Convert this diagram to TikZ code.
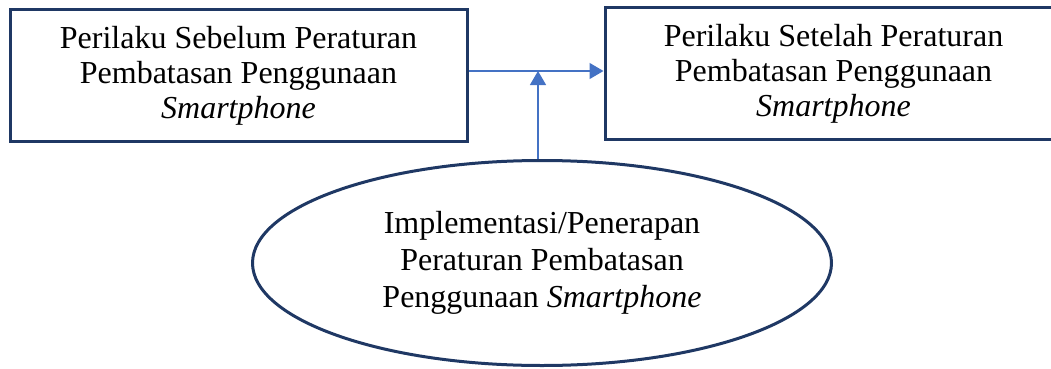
\documentclass[tikz,border=0pt]{standalone}
\usepackage{fontspec}
\setmainfont{Liberation Serif}
\usepackage{tikz}
\usetikzlibrary{arrows.meta, shapes.geometric, positioning}

\definecolor{boxline}{HTML}{1F3864}
\definecolor{arrowline}{HTML}{4472C4}

\begin{document}
\begin{tikzpicture}[
      x=1pt, y=-1pt,
      box/.style={draw=boxline, line width=3pt,
                  minimum width=457pt, minimum height=131pt,
                  align=center, font=\fontsize{32}{35}\selectfont},
      oval/.style={draw=boxline, ellipse, line width=3pt,
                   minimum width=579pt, minimum height=205pt,
                   align=center, font=\fontsize{32}{37}\selectfont},
      conn/.style={draw=arrowline, line width=1.3pt,
                   -{Triangle[length=14pt, width=16pt]}}
    ]
    \useasboundingbox (0,0) rectangle (1051,369);
    \node[box] (Sebelum) at (238.5,75.5)
          {Perilaku Sebelum Peraturan\\Pembatasan Penggunaan\\\textit{Smartphone}};
    \node[box] (Setelah) at (833.5,73.5)
          {Perilaku Setelah Peraturan\\Pembatasan Penggunaan\\\textit{Smartphone}};
    \node[oval] (Implementasi) at (542,263)
          {Implementasi/Penerapan\\Peraturan Pembatasan\\Penggunaan \textit{Smartphone}};
    \coordinate (temu) at (538,71);
    \draw[conn] (Sebelum.east |- temu) -- (Setelah.west |- temu);
    \draw[conn] (temu |- Implementasi.north) -- (temu);
  \end{tikzpicture}
\end{document}
